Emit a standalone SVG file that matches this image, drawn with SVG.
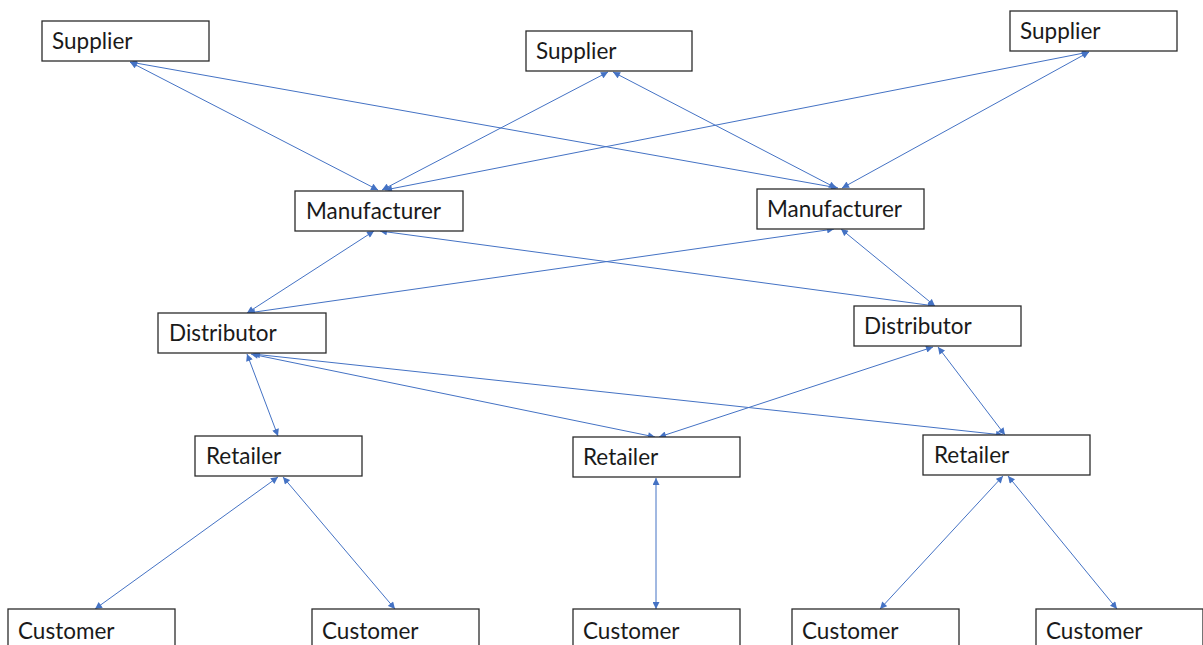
<svg xmlns="http://www.w3.org/2000/svg" width="1203" height="645" viewBox="0 0 1203 645">
  <style>
    .box { fill: #ffffff; stroke: #2b2b2b; stroke-width: 1.3; }
    .lbl { font-family: Lato, "Open Sans", sans-serif; font-size: 22.5px; fill: #1a1a1a; }
    .link { stroke: #4472c4; stroke-width: 1; fill: none; marker-start: url(#tip); marker-end: url(#tip); }
  </style>
  <defs>
    <marker id="tip" viewBox="0 0 10 10" refX="10" refY="5" markerWidth="8" markerHeight="7" markerUnits="userSpaceOnUse" orient="auto-start-reverse">
      <path d="M0,0 L10,5 L0,10 Z" fill="#4472c4"/>
    </marker>
  </defs>

  <rect width="1203" height="645" fill="#ffffff"/>

  <!-- connectors: all links are two-way -->
  <g id="connectors">
    <!-- suppliers to manufacturers -->
    <line class="link" x1="130" y1="62" x2="378" y2="190"/>
    <line class="link" x1="130" y1="62" x2="838" y2="188"/>
    <line class="link" x1="608" y1="72" x2="382" y2="190"/>
    <line class="link" x1="613" y1="72" x2="836" y2="188"/>
    <line class="link" x1="1089" y1="52" x2="385" y2="190"/>
    <line class="link" x1="1089" y1="52" x2="842" y2="188"/>
    <!-- manufacturers to distributors -->
    <line class="link" x1="374" y1="231" x2="247" y2="313"/>
    <line class="link" x1="380" y1="231" x2="935" y2="306"/>
    <line class="link" x1="834" y1="229" x2="248" y2="313"/>
    <line class="link" x1="841" y1="229" x2="935" y2="306"/>
    <!-- distributors to retailers -->
    <line class="link" x1="247" y1="354" x2="278" y2="436"/>
    <line class="link" x1="251" y1="354" x2="655" y2="437"/>
    <line class="link" x1="253" y1="354" x2="1003" y2="435"/>
    <line class="link" x1="933" y1="347" x2="659" y2="437"/>
    <line class="link" x1="938" y1="347" x2="1005" y2="435"/>
    <!-- retailers to customers -->
    <line class="link" x1="278" y1="477" x2="95" y2="609"/>
    <line class="link" x1="283" y1="477" x2="395" y2="609"/>
    <line class="link" x1="656" y1="478" x2="656" y2="609"/>
    <line class="link" x1="1003" y1="476" x2="880" y2="609"/>
    <line class="link" x1="1008" y1="476" x2="1117" y2="609"/>
  </g>

  <g id="supplier-1"><rect class="box" x="42" y="21" width="167" height="40"/><text class="lbl" x="52" y="49">Supplier</text></g>
  <g id="supplier-2"><rect class="box" x="526" y="31" width="166" height="40"/><text class="lbl" x="536" y="59">Supplier</text></g>
  <g id="supplier-3"><rect class="box" x="1010" y="11" width="167" height="40"/><text class="lbl" x="1020" y="39">Supplier</text></g>

  <g id="manufacturer-1"><rect class="box" x="295" y="191" width="168" height="40"/><text class="lbl" x="306" y="219">Manufacturer</text></g>
  <g id="manufacturer-2"><rect class="box" x="757" y="189" width="167" height="40"/><text class="lbl" x="767" y="217">Manufacturer</text></g>

  <g id="distributor-1"><rect class="box" x="158" y="313" width="168" height="40"/><text class="lbl" x="169" y="341">Distributor</text></g>
  <g id="distributor-2"><rect class="box" x="854" y="306" width="167" height="40"/><text class="lbl" x="864" y="334">Distributor</text></g>

  <g id="retailer-1"><rect class="box" x="195" y="436" width="167" height="40"/><text class="lbl" x="206" y="464">Retailer</text></g>
  <g id="retailer-2"><rect class="box" x="573" y="437" width="167" height="40"/><text class="lbl" x="583" y="465">Retailer</text></g>
  <g id="retailer-3"><rect class="box" x="923" y="435" width="167" height="40"/><text class="lbl" x="934" y="463">Retailer</text></g>

  <g id="customer-1"><rect class="box" x="8" y="609" width="167" height="40"/><text class="lbl" x="18" y="639">Customer</text></g>
  <g id="customer-2"><rect class="box" x="312" y="609" width="167" height="40"/><text class="lbl" x="322" y="639">Customer</text></g>
  <g id="customer-3"><rect class="box" x="573" y="609" width="167" height="40"/><text class="lbl" x="583" y="639">Customer</text></g>
  <g id="customer-4"><rect class="box" x="792" y="609" width="167" height="40"/><text class="lbl" x="802" y="639">Customer</text></g>
  <g id="customer-5"><rect class="box" x="1036" y="609" width="167" height="40"/><text class="lbl" x="1046" y="639">Customer</text></g>
</svg>
